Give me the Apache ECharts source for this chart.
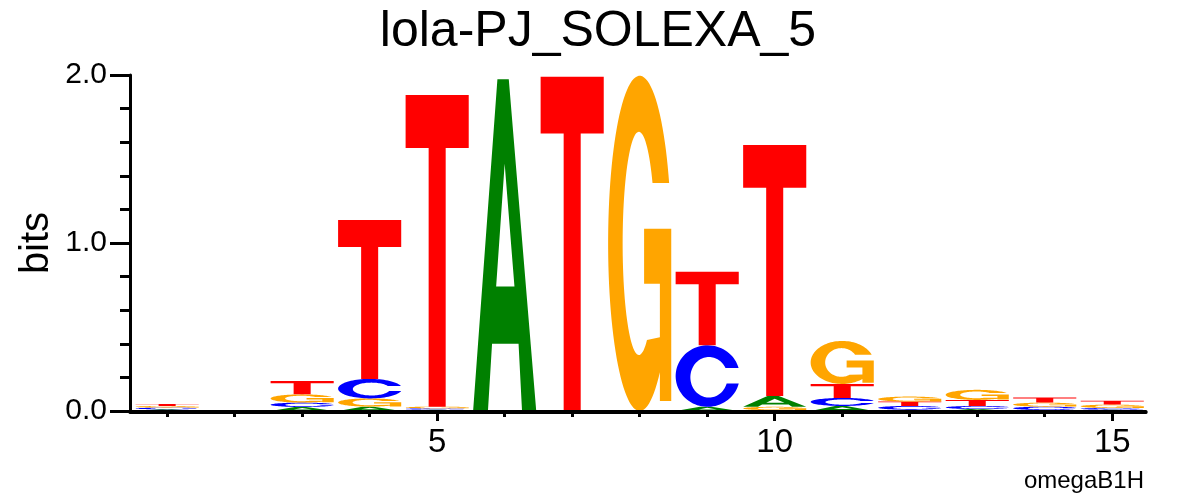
<!DOCTYPE html>
<html>
<head>
<meta charset="utf-8">
<script src="https://cdn.jsdelivr.net/npm/echarts@6/dist/echarts.min.js"></script>
<style>html,body{margin:0;padding:0;background:#fff}#chart{width:1196px;height:496px}</style>
</head>
<body>
<div id="chart"></div>
<script>
// ---- data (information content in bits per letter, positions 1..15) ----
const positions = [1,2,3,4,5,6,7,8,9,10,11,12,13,14,15];
const letters = ['A','C','G','T'];
const bitsA = [0.010, 0, 0.024, 0.026, 0.008, 1.975, 0,    0,     0.025, 0.064, 0.030, 0.008, 0.012, 0.006, 0.008];
const bitsC = [0.010, 0, 0.026, 0.116, 0.008, 0,     0,    0,     0.366, 0.005, 0.048, 0.022, 0.018, 0.020, 0.010];
const bitsG = [0.010, 0, 0.049, 0.049, 0.010, 0,     0,    1.995, 0,     0.020, 0.256, 0.030, 0.060, 0.024, 0.020];
const bitsT = [0.012, 0, 0.079, 0.946, 1.855, 0,     1.990, 0,    0.438, 1.494, 0.083, 0.026, 0.036, 0.030, 0.023];
const xMajorTicks = [5, 10, 15];
const xMinorTicks = [1,2,3,4,6,7,8,9,11,12,13,14];
const titleText = 'lola-PJ_SOLEXA_5';
const yName = 'bits';
const footText = 'omegaB1H';

const letterColors = {A:'#008000', C:'#0000FF', G:'#FFA500', T:'#FF0000'};
const FONT = '"Liberation Sans", Arial, Helvetica, sans-serif';

// ---- glyph outlines (unit box, scaled to each letter's rectangle) ----
function ellPts(cx, cy, rx, ry, a0, a1, n) {
  const pts = [];
  for (let i = 0; i <= n; i++) {
    const a = a0 + (a1 - a0) * i / n;
    pts.push([cx + rx * Math.cos(a), cy + ry * Math.sin(a)]);
  }
  return pts;
}
function toPath(contours) {
  return contours.map(c => 'M' + c.map(p => (p[0]*100).toFixed(2) + ' ' + (p[1]*100).toFixed(2)).join(' L') + ' Z').join(' ');
}
const glyphT = toPath([[[0,0],[1,0],[1,0.17],[0.635,0.17],[0.635,1],[0.365,1],[0.365,0.17],[0,0.17]]]);
const glyphA = toPath([
  [[0,1],[0.385,0],[0.565,0],[1,1],[0.775,1],[0.72,0.797],[0.3,0.797],[0.235,1]],
  [[0.5,0.255],[0.365,0.625],[0.655,0.625]]
]);
const glyphC = (function(){
  const o = ellPts(0.5,0.5,0.5,0.5, Math.asin((0.37-0.5)/0.5), -2*Math.PI + Math.asin((0.62-0.5)/0.5), 80);
  const i = ellPts(0.52,0.52,0.29,0.33, Math.asin((0.62-0.52)/0.33), 2*Math.PI + Math.asin((0.37-0.52)/0.33), 80);
  return toPath([o.concat(i)]);
})();
const glyphG = (function(){
  const o = ellPts(0.5,0.5,0.5,0.5, Math.asin((0.32-0.5)/0.5), -2*Math.PI + Math.acos(0.64), 90);
  const mid = [[0.82,0.97],[1,0.97],[1,0.456],[0.57,0.456],[0.57,0.62],[0.82,0.62],[0.82,0.78]];
  const i = ellPts(0.487,0.5,0.257,0.333, Math.PI/3, 2*Math.PI + Math.asin((0.32-0.5)/0.333), 80);
  return toPath([o.concat(mid, i)]);
})();
const glyphs = {A: glyphA, C: glyphC, G: glyphG, T: glyphT};

// ---- stack letters per position: smallest at bottom ----
const series = {A: bitsA, C: bitsC, G: bitsG, T: bitsT};
const stackData = [];
positions.forEach((pos, k) => {
  const col = letters.map((L, li) => ({L, li, v: series[L][k]})).filter(d => d.v > 0);
  col.sort((a, b) => a.v - b.v || a.li - b.li);
  let base = 0;
  col.forEach(d => {
    stackData.push([pos, base, base + d.v, d.li]);
    base += d.v;
  });
});

const HALF = 0.4675;
const chart = echarts.init(document.getElementById('chart'), null, {renderer: 'canvas'});
const axisLineStyle = {color: '#000', width: 3};
chart.setOption({
  animation: false,
  backgroundColor: '#fff',
  title: {
    text: titleText, left: 'center', top: 2,
    textStyle: {fontSize: 50, fontWeight: 'normal', color: '#000', fontFamily: FONT}
  },
  grid: {left: 130, right: 50, top: 75, bottom: 85, containLabel: false, outerBoundsMode: 'none'},
  xAxis: [
    {
      type: 'value', min: 0.45, max: 15.5, position: 'bottom', offset: 1, z: 5,
      axisLine: {lineStyle: axisLineStyle},
      axisTick: {customValues: xMajorTicks, length: 10, lineStyle: axisLineStyle},
      axisLabel: {customValues: xMajorTicks, fontSize: 33, color: '#000', fontFamily: FONT, margin: 14},
      splitLine: {show: false}
    },
    {
      type: 'value', min: 0.45, max: 15.5, position: 'bottom', offset: 1, z: 5,
      axisLine: {lineStyle: axisLineStyle},
      axisTick: {customValues: xMinorTicks, length: 5, lineStyle: axisLineStyle},
      axisLabel: {show: false},
      splitLine: {show: false}
    }
  ],
  yAxis: {
    type: 'value', min: 0, max: 2, interval: 1, z: 5,
    axisLine: {show: true, lineStyle: axisLineStyle},
    axisTick: {show: true, length: 20, lineStyle: axisLineStyle},
    minorTick: {show: true, splitNumber: 5, length: 10, lineStyle: axisLineStyle},
    axisLabel: {fontSize: 30, color: '#000', fontFamily: FONT, margin: 23, formatter: v => v.toFixed(1), showMinLabel: true, showMaxLabel: true},
    splitLine: {show: false}
  },
  graphic: [
    {type: 'text', x: 37, y: 243, rotation: Math.PI/2,
     style: {text: yName, fontSize: 40, fontFamily: FONT, fill: '#000', textAlign: 'center', textVerticalAlign: 'middle'}},
    {type: 'text', x: 1144, y: 481,
     style: {text: footText, fontSize: 24, fontFamily: FONT, fill: '#000', textAlign: 'right', textVerticalAlign: 'middle'}}
  ],
  series: [{
    type: 'custom',
    xAxisIndex: 0,
    clip: false,
    encode: {x: 0, y: [1, 2]},
    data: stackData,
    renderItem: function (params, api) {
      const x = api.value(0), y0 = api.value(1), y1 = api.value(2), li = api.value(3);
      const L = letters[li];
      const p0 = api.coord([x - HALF, y1]);
      const p1 = api.coord([x + HALF, y0]);
      const h = p1[1] - p0[1];
      if (h <= 0) return;
      return {
        type: 'path',
        shape: {pathData: glyphs[L], x: p0[0], y: p0[1], width: p1[0] - p0[0], height: h, layout: 'cover'},
        style: {fill: letterColors[L], stroke: null}
      };
    }
  }]
});
</script>
</body>
</html>
